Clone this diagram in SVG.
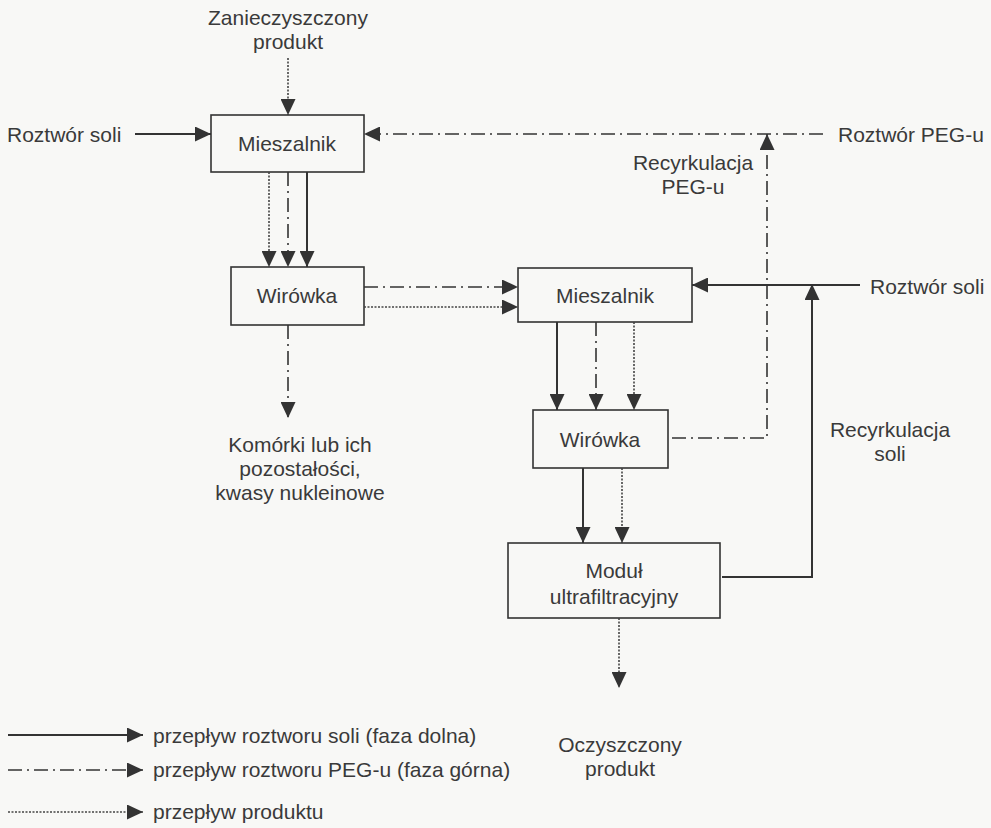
<svg xmlns="http://www.w3.org/2000/svg" width="991" height="828" viewBox="0 0 991 828">
<style>
text{font-family:"Liberation Sans",Arial,sans-serif;font-size:21px;fill:#3a3a3a}
.box{fill:none;stroke:#333;stroke-width:1.6}
.s{fill:none;stroke:#333;stroke-width:2}
.d{fill:none;stroke:#333;stroke-width:1.6;stroke-dasharray:14 5 2 5}
.p{fill:none;stroke:#444;stroke-width:1.6;stroke-dasharray:2 1.5}
</style>
<defs>
<marker id="ah" markerWidth="16" markerHeight="15" refX="16" refY="7.5" orient="auto" markerUnits="userSpaceOnUse">
<path d="M0,0 L16,7.5 L0,15 Z" fill="#333"/>
</marker>
</defs>
<rect width="991" height="828" fill="#f8f8f6"/>
<g id="mieszalnik1"><rect class="box" x="211" y="115" width="153" height="57"/><text x="287" y="151" text-anchor="middle">Mieszalnik</text></g>
<g id="wirowka1"><rect class="box" x="231" y="267" width="133" height="58"/><text x="297" y="303" text-anchor="middle">Wirówka</text></g>
<g id="mieszalnik2"><rect class="box" x="518" y="268" width="174" height="54"/><text x="605" y="303" text-anchor="middle">Mieszalnik</text></g>
<g id="wirowka2"><rect class="box" x="533" y="410" width="135" height="58"/><text x="600" y="447" text-anchor="middle">Wirówka</text></g>
<g id="modul"><rect class="box" x="508" y="543" width="212" height="75"/><text x="614" y="578" text-anchor="middle">Moduł</text><text x="614" y="604" text-anchor="middle">ultrafiltracyjny</text></g>
<g id="labels">
<text x="288" y="25" text-anchor="middle">Zanieczyszczony</text>
<text x="288" y="49" text-anchor="middle">produkt</text>
<text x="7" y="142">Roztwór soli</text>
<text x="838" y="142">Roztwór PEG-u</text>
<text x="693" y="170" text-anchor="middle">Recyrkulacja</text>
<text x="693" y="194" text-anchor="middle">PEG-u</text>
<text x="870" y="294">Roztwór soli</text>
<text x="300" y="452" text-anchor="middle">Komórki lub ich</text>
<text x="300" y="476" text-anchor="middle">pozostałości,</text>
<text x="300" y="500" text-anchor="middle">kwasy nukleinowe</text>
<text x="890" y="437" text-anchor="middle">Recyrkulacja</text>
<text x="890" y="461" text-anchor="middle">soli</text>
<text x="620" y="752" text-anchor="middle">Oczyszczony</text>
<text x="620" y="776" text-anchor="middle">produkt</text>
<text x="153" y="743">przepływ roztworu soli (faza dolna)</text>
<text x="153" y="777">przepływ roztworu PEG-u (faza górna)</text>
<text x="153" y="819">przepływ produktu</text>
</g>
<g id="connectors">
<line class="p" x1="288" y1="58" x2="288" y2="115" marker-end="url(#ah)"/>
<line class="s" x1="135" y1="134" x2="211" y2="134" marker-end="url(#ah)"/>
<line class="d" x1="823" y1="134" x2="364" y2="134" marker-end="url(#ah)"/>
<line class="p" x1="269" y1="172" x2="269" y2="267" marker-end="url(#ah)"/>
<line class="d" x1="288" y1="172" x2="288" y2="267" marker-end="url(#ah)"/>
<line class="s" x1="307" y1="172" x2="307" y2="267" marker-end="url(#ah)"/>
<line class="d" x1="364" y1="287" x2="518" y2="287" marker-end="url(#ah)"/>
<line class="p" x1="364" y1="307" x2="518" y2="307" marker-end="url(#ah)"/>
<line class="d" x1="288" y1="325" x2="288" y2="418" marker-end="url(#ah)"/>
<line class="s" x1="860" y1="285" x2="692" y2="285" marker-end="url(#ah)"/>
<polyline class="s" points="722,577 812,577 812,284" marker-end="url(#ah)"/>
<polyline class="d" points="672,438 767,438 767,134" marker-end="url(#ah)"/>
<line class="s" x1="557" y1="322" x2="557" y2="410" marker-end="url(#ah)"/>
<line class="d" x1="596" y1="322" x2="596" y2="410" marker-end="url(#ah)"/>
<line class="p" x1="634" y1="322" x2="634" y2="410" marker-end="url(#ah)"/>
<line class="s" x1="583" y1="468" x2="583" y2="543" marker-end="url(#ah)"/>
<line class="p" x1="622" y1="468" x2="622" y2="543" marker-end="url(#ah)"/>
<line class="p" x1="619" y1="618" x2="619" y2="688" marker-end="url(#ah)"/>
<line class="s" x1="8" y1="735" x2="143" y2="735" marker-end="url(#ah)"/>
<line class="d" x1="8" y1="770" x2="143" y2="770" marker-end="url(#ah)"/>
<line class="p" x1="8" y1="812" x2="143" y2="812" marker-end="url(#ah)"/>
</g>
</svg>
